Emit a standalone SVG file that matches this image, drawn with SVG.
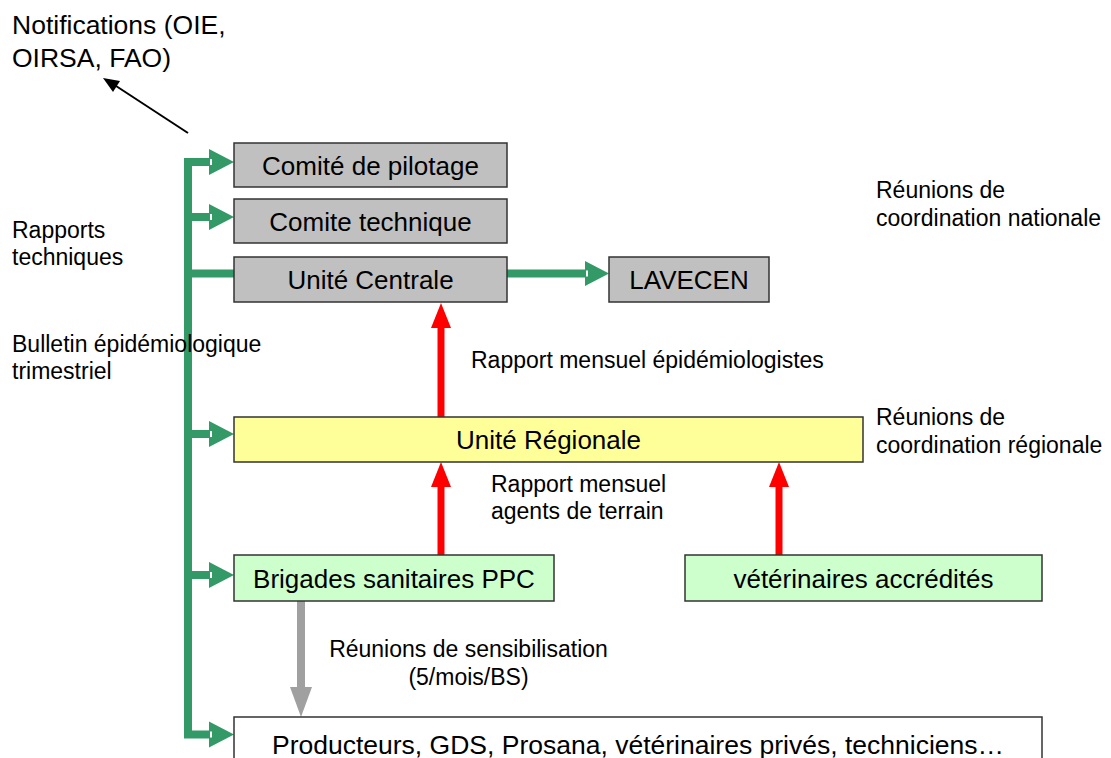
<svg xmlns="http://www.w3.org/2000/svg" width="1111" height="758" viewBox="0 0 1111 758">
  <style>
    .box { stroke: #333333; stroke-width: 1.5; }
    .grey { fill: #C0C0C0; }
    .yellow { fill: #FFFF99; }
    .mint { fill: #CCFFCC; }
    .white { fill: #FFFFFF; }
    .label { font-family: "Liberation Sans", Arial, sans-serif; font-size: 26px; fill: #000; text-anchor: middle; }
    .wide { font-size: 26.5px; }
    .note { font-family: "Liberation Sans", Arial, sans-serif; font-size: 23px; fill: #000; }
    .big { font-size: 26.5px; }
    .green { stroke: #339966; stroke-width: 8; fill: none; }
    .greenhead { fill: #339966; }
    .red { stroke: #FF0000; stroke-width: 7; }
    .redhead { fill: #FF0000; }
    .greyline { stroke: #A0A0A0; stroke-width: 8; }
    .greyhead { fill: #A0A0A0; }
    .notch { fill: #FFFFFF; }
  </style>

  <!-- connectors -->
  <g id="connectors">
    <!-- green distribution trunk -->
    <path class="green" d="M 212 162 H 188 V 734.5 H 212" stroke-linejoin="miter"/>
    <line class="green" x1="188" y1="217" x2="212" y2="217"/>
    <line class="green" x1="188" y1="273.5" x2="234" y2="273.5"/>
    <line class="green" x1="188" y1="434" x2="212" y2="434"/>
    <line class="green" x1="188" y1="575" x2="212" y2="575"/>
    <polygon class="greenhead" points="234,162 209,149 209,175"/>
    <polygon class="greenhead" points="234,217 209,204 209,230"/>
    <polygon class="greenhead" points="234,434 209,421 209,447"/>
    <polygon class="greenhead" points="234,575 209,562 209,588"/>
    <polygon class="greenhead" points="234,734.5 209,721.5 209,747.5"/>
    <rect class="notch" x="210" y="159" width="2" height="6"/>
    <rect class="notch" x="210" y="214" width="2" height="6"/>
    <rect class="notch" x="210" y="431" width="2" height="6"/>
    <rect class="notch" x="210" y="572" width="2" height="6"/>
    <rect class="notch" x="210" y="731.5" width="2" height="6"/>

    <!-- Unité Centrale to LAVECEN -->
    <line class="green" x1="507" y1="273.5" x2="587" y2="273.5"/>
    <polygon class="greenhead" points="609,273.5 585,261 585,286"/>
    <rect class="notch" x="586" y="270.5" width="2" height="6"/>

    <!-- red report arrows -->
    <line class="red" x1="441" y1="417" x2="441" y2="326"/>
    <polygon class="redhead" points="441,303 431,328 451,328"/>
    <line class="red" x1="441" y1="555" x2="441" y2="485"/>
    <polygon class="redhead" points="441,462 431,487 451,487"/>
    <line class="red" x1="779" y1="555" x2="779" y2="485"/>
    <polygon class="redhead" points="779,462 769,487 789,487"/>

    <!-- grey awareness arrow -->
    <line class="greyline" x1="301" y1="601" x2="301" y2="689"/>
    <polygon class="greyhead" points="301,717 290,687 312,687"/>

    <!-- notifications arrow -->
    <line x1="188" y1="133" x2="113" y2="84" stroke="#000" stroke-width="2"/>
    <polygon points="103,78 120,81 113,92" fill="#000"/>
  </g>

  <!-- nodes -->
  <g id="comite-pilotage">
    <rect class="box grey" x="234" y="143" width="273" height="44"/>
    <text class="label" x="370.5" y="174.5">Comité de pilotage</text>
  </g>
  <g id="comite-technique">
    <rect class="box grey" x="234" y="199" width="273" height="44"/>
    <text class="label" x="370.5" y="230.5">Comite technique</text>
  </g>
  <g id="unite-centrale">
    <rect class="box grey" x="234" y="257" width="273" height="45"/>
    <text class="label" x="370.5" y="289">Unité Centrale</text>
  </g>
  <g id="lavecen">
    <rect class="box grey" x="609" y="257" width="160" height="45"/>
    <text class="label" x="689" y="289">LAVECEN</text>
  </g>
  <g id="unite-regionale">
    <rect class="box yellow" x="234" y="417" width="629" height="45"/>
    <text class="label" x="548.5" y="449">Unité Régionale</text>
  </g>
  <g id="brigades">
    <rect class="box mint" x="234" y="555" width="320" height="46"/>
    <text class="label" x="394" y="587.5">Brigades sanitaires PPC</text>
  </g>
  <g id="veterinaires">
    <rect class="box mint" x="685" y="555" width="357" height="46"/>
    <text class="label" x="863.5" y="587.5">vétérinaires accrédités</text>
  </g>
  <g id="producteurs">
    <rect class="box white" x="234" y="717" width="808" height="60"/>
    <text class="label wide" x="638" y="754">Producteurs, GDS, Prosana, vétérinaires privés, techniciens…</text>
  </g>

  <!-- free annotations -->
  <g id="annotations">
    <text class="note big" x="12" y="34">Notifications (OIE,</text>
    <text class="note big" x="12" y="67">OIRSA, FAO)</text>
    <text class="note" x="12" y="238">Rapports</text>
    <text class="note" x="12" y="265">techniques</text>
    <text class="note" x="12" y="352">Bulletin épidémiologique</text>
    <text class="note" x="12" y="379">trimestriel</text>
    <text class="note" x="876" y="198">Réunions de</text>
    <text class="note" x="876" y="226">coordination nationale</text>
    <text class="note" x="876" y="425">Réunions de</text>
    <text class="note" x="876" y="453">coordination régionale</text>
    <text class="note" x="471" y="368">Rapport mensuel épidémiologistes</text>
    <text class="note" x="491" y="492">Rapport mensuel</text>
    <text class="note" x="491" y="519">agents de terrain</text>
    <text class="note" x="468.5" y="657" text-anchor="middle">Réunions de sensibilisation</text>
    <text class="note" x="468.5" y="685" text-anchor="middle">(5/mois/BS)</text>
  </g>
</svg>
